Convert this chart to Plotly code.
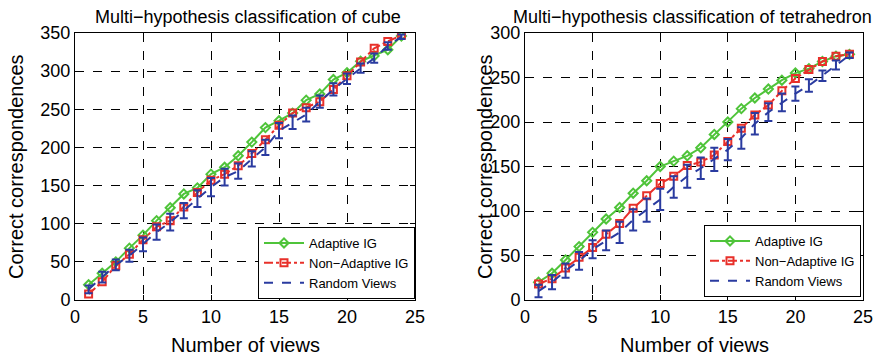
import plotly.graph_objects as go

views = list(range(1, 25))

# Cube
cube_adaptive = [20, 35, 50, 68, 85, 104, 121, 139, 147, 165, 174, 189, 207, 226, 235, 245, 262, 270, 289, 298, 313, 320, 328, 346]
cube_nonadaptive = [8, 24, 45, 60, 79, 96, 104, 122, 141, 157, 165, 176, 192, 210, 229, 245, 252, 260, 276, 294, 312, 330, 339, 347]
cube_random = [14, 30, 46, 58, 73, 89, 102, 117, 133, 148, 161, 169, 185, 200, 222, 233, 243, 260, 276, 290, 304, 317, 333, 345]
cube_random_err = [5, 7, 7, 8, 9, 10, 11, 10, 11, 12, 11, 10, 10, 10, 10, 9, 9, 8, 8, 7, 6, 6, 5, 3]

# Tetrahedron
tet_adaptive = [20, 30, 45, 60, 76, 91, 104, 120, 134, 150, 156, 162, 171, 186, 200, 215, 227, 237, 247, 255, 260, 268, 274, 276]
tet_nonadaptive = [18, 24, 36, 48, 59, 74, 86, 103, 117, 131, 139, 151, 155, 163, 178, 193, 208, 219, 235, 249, 259, 268, 274, 276]
tet_random = [10, 20, 33, 44, 57, 67, 76, 90, 101, 113, 127, 139, 148, 158, 169, 182, 198, 211, 222, 232, 241, 252, 264, 275]
tet_random_err = [7, 8, 8, 10, 10, 11, 12, 12, 13, 12, 12, 13, 12, 13, 12, 12, 12, 10, 10, 8, 7, 6, 5, 3]

titles = ["Multi−hypothesis classification of cube", "Multi−hypothesis classification of tetrahedron"]
names = ["Adaptive IG", "Non−Adaptive IG", "Random Views"]
x_label = "Number of views"
y_label = "Correct correspondences"
x_ticks = [0, 5, 10, 15, 20, 25]

GREEN = "#4fc43a"
RED = "#e8302a"
BLUE = "#2a3ba0"
FONT = "Liberation Sans, Arial, sans-serif"
W, H = 877, 359

fig = go.Figure()

panels = [
    (cube_adaptive, cube_nonadaptive, cube_random, cube_random_err, "x", "y", "legend"),
    (tet_adaptive, tet_nonadaptive, tet_random, tet_random_err, "x2", "y2", "legend2"),
]

for ad, na, rv, err, xa, ya, leg in panels:
    fig.add_trace(go.Scatter(
        x=views, y=ad, name=names[0], xaxis=xa, yaxis=ya, legend=leg,
        mode="lines+markers",
        line=dict(color=GREEN, width=2),
        marker=dict(symbol="diamond-open", size=7, color=GREEN, line=dict(width=2)),
    ))
    fig.add_trace(go.Scatter(
        x=views, y=na, name=names[1], xaxis=xa, yaxis=ya, legend=leg,
        mode="lines+markers",
        line=dict(color=RED, width=2, dash="dashdot"),
        marker=dict(symbol="square-open", size=7, color=RED, line=dict(width=2)),
    ))
    fig.add_trace(go.Scatter(
        x=views, y=rv, name=names[2], xaxis=xa, yaxis=ya, legend=leg,
        mode="lines",
        line=dict(color=BLUE, width=2, dash="dash"),
        error_y=dict(type="data", array=err, visible=True, color=BLUE, thickness=2, width=4),
    ))

axis_common = dict(
    showline=True, linecolor="black", linewidth=1, mirror="ticks",
    ticks="inside", ticklen=5, tickcolor="black",
    showgrid=True, gridcolor="black", griddash="dash", gridwidth=1,
    zeroline=False, automargin=False,
    tickfont=dict(family=FONT, size=18, color="black"),
)

y_top, y_bot = 1 - 33 / H, 1 - 300 / H

legend_common = dict(
    bgcolor="white", bordercolor="black", borderwidth=1,
    font=dict(family=FONT, size=13, color="black"),
    tracegroupgap=0, itemwidth=40, xanchor="right", yanchor="bottom",
)

fig.update_layout(
    width=W, height=H,
    margin=dict(l=0, r=0, t=0, b=0, pad=0, autoexpand=False),
    paper_bgcolor="white", plot_bgcolor="white",
    font=dict(family=FONT, color="black"),
    xaxis=dict(domain=[75 / W, 415 / W], range=[0, 25], tickvals=x_ticks, anchor="y", **axis_common),
    yaxis=dict(domain=[y_bot, y_top], range=[0, 350], dtick=50, anchor="x", **axis_common),
    xaxis2=dict(domain=[525 / W, 863 / W], range=[0, 25], tickvals=x_ticks, anchor="y2", **axis_common),
    yaxis2=dict(domain=[y_bot, y_top], range=[0, 300], dtick=50, anchor="x2", **axis_common),
    legend=dict(x=415 / W, y=1 - 299 / H, **legend_common),
    legend2=dict(x=861 / W, y=1 - 297 / H, **legend_common),
)

annots = [
    (titles[0], 248, 17, 0, 18),
    (titles[1], 692, 17, 0, 18),
    (x_label, 245, 345, 0, 20),
    (x_label, 694, 345, 0, 20),
    (y_label, 16, 167, -90, 20),
    (y_label, 485, 167, -90, 20),
]
for text, px, py, ang, fs in annots:
    fig.add_annotation(text=text, x=px / W, y=1 - py / H, xref="paper", yref="paper",
                       xanchor="center", yanchor="middle", textangle=ang, showarrow=False,
                       font=dict(family=FONT, size=fs, color="black"))

fig.write_html("out.html", config={"displayModeBar": False},
               post_script="document.body.style.margin='0px';document.body.style.padding='0px';")
